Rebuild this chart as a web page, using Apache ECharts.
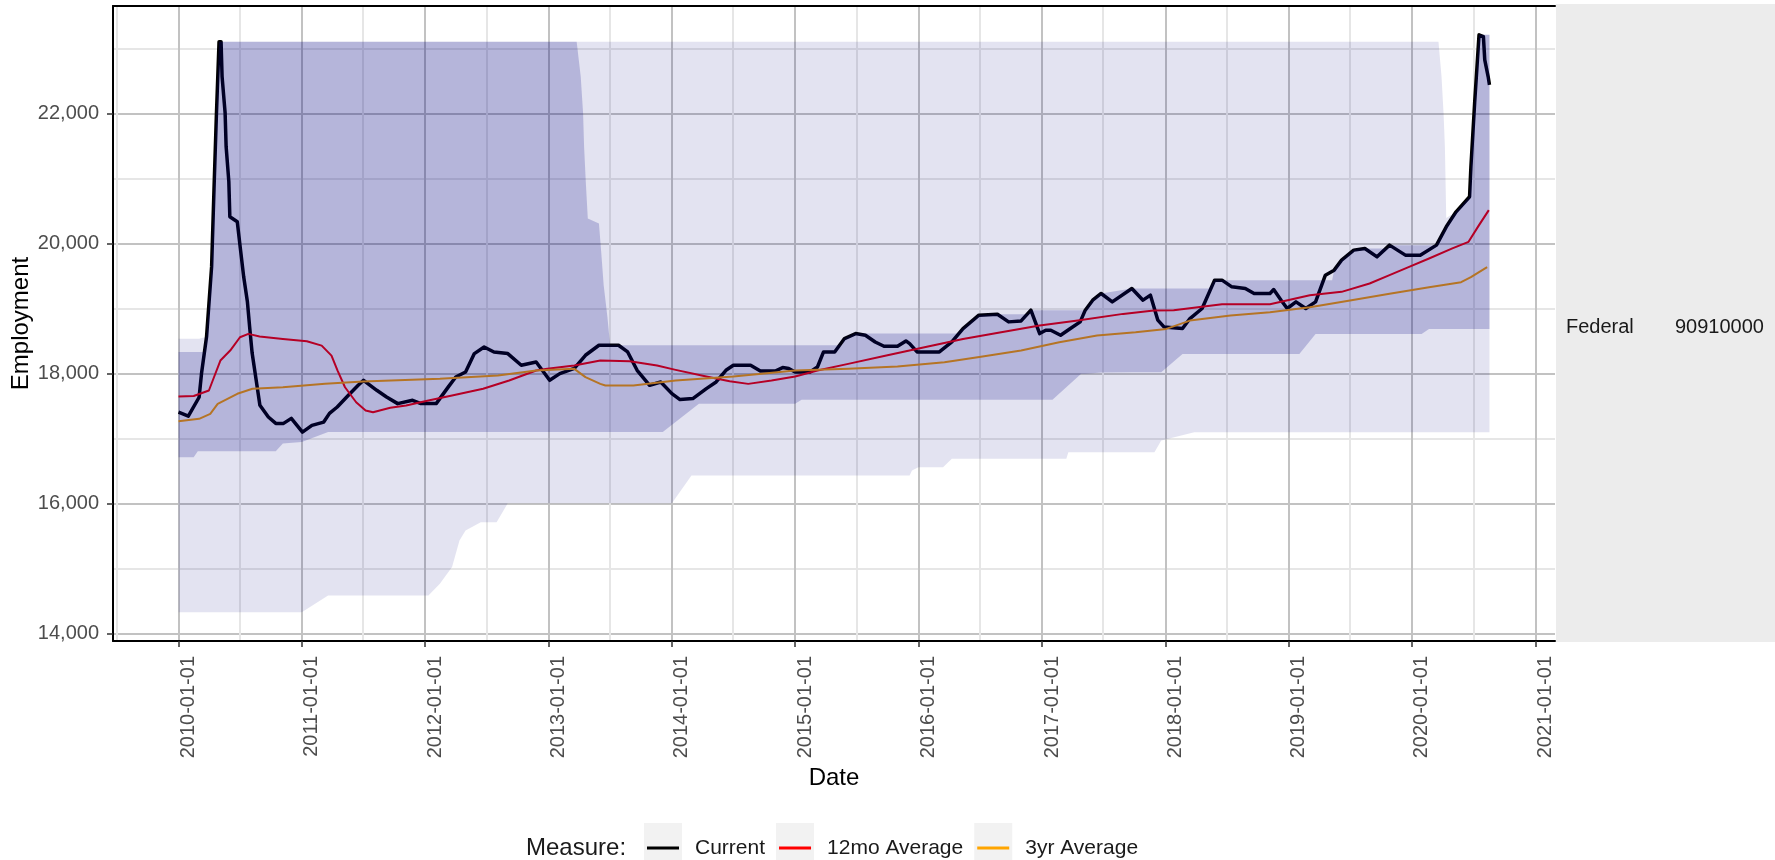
<!DOCTYPE html>
<html>
<head>
<meta charset="utf-8">
<title>Federal employment</title>
<script src="https://cdn.jsdelivr.net/npm/echarts@6/dist/echarts.min.js"></script>
<style>
  html, body { margin: 0; padding: 0; background: #fff; }
  #main { width: 1775px; height: 860px; }
</style>
</head>
<body>
<div id="main"></div>
<script>
const FONT = '"Liberation Sans", Arial, sans-serif';

// axis ticks
const yearTicks = ['2010-01-01', '2011-01-01', '2012-01-01', '2013-01-01', '2014-01-01', '2015-01-01',
  '2016-01-01', '2017-01-01', '2018-01-01', '2019-01-01', '2020-01-01', '2021-01-01'];
const halfYearTicks = ['2009-07-01', '2010-07-01', '2011-07-01', '2012-07-01', '2013-07-01', '2014-07-01',
  '2015-07-01', '2016-07-01', '2017-07-01', '2018-07-01', '2019-07-01', '2020-07-01'];
const yMajorTicks = [14000, 16000, 18000, 20000, 22000];
const yMinorTicks = [15000, 17000, 19000, 21000, 23000];

const legendNames = ['Current', '12mo Average', '3yr Average'];

// Current employment (thousands)
const currentPoints = [
  ['2010-01-01', 17410], ['2010-01-30', 17350], ['2010-03-03', 17640], ['2010-03-10', 18000],
  ['2010-03-25', 18570], ['2010-04-09', 19650], ['2010-04-16', 20830], ['2010-04-23', 21960],
  ['2010-05-01', 23110], ['2010-05-07', 23110], ['2010-05-10', 22575], ['2010-05-19', 22015],
  ['2010-05-22', 21496], ['2010-05-30', 20957], ['2010-06-02', 20417], ['2010-06-24', 20340],
  ['2010-07-03', 19935], ['2010-07-13', 19493], ['2010-07-24', 19108], ['2010-07-31', 18700],
  ['2010-08-07', 18320], ['2010-08-19', 17900], ['2010-08-30', 17516], ['2010-09-24', 17336],
  ['2010-10-16', 17238], ['2010-11-08', 17238], ['2010-12-01', 17315], ['2011-01-03', 17104],
  ['2011-01-31', 17207], ['2011-03-07', 17258], ['2011-03-24', 17392], ['2011-04-16', 17490],
  ['2011-05-19', 17670], ['2011-06-17', 17824], ['2011-07-03', 17901], ['2011-08-11', 17747],
  ['2011-09-09', 17644], ['2011-10-12', 17542], ['2011-11-25', 17593], ['2011-12-20', 17542],
  ['2012-02-03', 17542], ['2012-03-10', 17800], ['2012-04-01', 17952], ['2012-04-30', 18029],
  ['2012-05-26', 18312], ['2012-06-24', 18414], ['2012-07-23', 18337], ['2012-09-02', 18312],
  ['2012-10-12', 18132], ['2012-11-25', 18183], ['2012-12-17', 18029], ['2013-01-04', 17901],
  ['2013-02-03', 18004], ['2013-03-18', 18086], ['2013-04-20', 18286], ['2013-05-30', 18440],
  ['2013-07-27', 18440], ['2013-08-23', 18337], ['2013-09-20', 18055], ['2013-10-27', 17824],
  ['2013-11-29', 17875], ['2014-01-01', 17696], ['2014-01-25', 17604], ['2014-03-04', 17619],
  ['2014-04-13', 17773], ['2014-05-12', 17875], ['2014-06-10', 18055], ['2014-07-02', 18132],
  ['2014-08-22', 18132], ['2014-09-20', 18044], ['2014-11-03', 18044], ['2014-11-25', 18097],
  ['2014-12-13', 18081], ['2015-01-01', 18029], ['2015-02-14', 18029], ['2015-03-08', 18106],
  ['2015-03-26', 18337], ['2015-04-28', 18337], ['2015-05-27', 18543], ['2015-06-29', 18620],
  ['2015-07-28', 18594], ['2015-08-26', 18491], ['2015-09-21', 18425], ['2015-10-31', 18425],
  ['2015-11-25', 18507], ['2015-12-06', 18466], ['2015-12-28', 18337], ['2016-03-03', 18337],
  ['2016-04-09', 18491], ['2016-05-12', 18697], ['2016-06-28', 18903], ['2016-08-22', 18918],
  ['2016-09-24', 18800], ['2016-10-31', 18815], ['2016-11-29', 18980], ['2016-12-25', 18620],
  ['2017-01-12', 18671], ['2017-01-27', 18671], ['2017-02-25', 18594], ['2017-03-26', 18697],
  ['2017-04-24', 18800], ['2017-05-09', 18980], ['2017-05-31', 19134], ['2017-06-25', 19237],
  ['2017-07-28', 19108], ['2017-09-24', 19314], ['2017-10-27', 19134], ['2017-11-18', 19211],
  ['2017-12-10', 18826], ['2017-12-28', 18722], ['2018-02-21', 18697], ['2018-03-15', 18851],
  ['2018-04-20', 19006], ['2018-05-27', 19442], ['2018-06-18', 19442], ['2018-07-17', 19339],
  ['2018-08-26', 19314], ['2018-09-21', 19237], ['2018-11-07', 19237], ['2018-11-18', 19298],
  ['2018-12-10', 19134], ['2018-12-28', 19006], ['2019-01-23', 19108], ['2019-02-21', 19006],
  ['2019-03-22', 19108], ['2019-04-20', 19519], ['2019-05-16', 19596], ['2019-06-07', 19750],
  ['2019-07-13', 19904], ['2019-08-15', 19930], ['2019-09-20', 19801], ['2019-10-27', 19981],
  ['2019-12-13', 19827], ['2020-01-26', 19827], ['2020-03-14', 19981], ['2020-04-12', 20263],
  ['2020-05-11', 20494], ['2020-06-20', 20726], ['2020-06-24', 21188], ['2020-07-05', 22165],
  ['2020-07-12', 22729], ['2020-07-18', 23217], ['2020-07-31', 23191], ['2020-08-04', 22832],
  ['2020-08-14', 22575], ['2020-08-18', 22447]
];

// 12 month moving average
const avg12Points = [
  ['2010-01-01', 17650], ['2010-02-15', 17660], ['2010-04-01', 17744], ['2010-04-16', 17948],
  ['2010-05-05', 18205], ['2010-06-03', 18359], ['2010-07-02', 18563], ['2010-07-27', 18615],
  ['2010-08-29', 18574], ['2010-11-06', 18538], ['2011-01-16', 18502], ['2011-03-01', 18435],
  ['2011-03-30', 18281], ['2011-04-17', 18051], ['2011-05-09', 17794], ['2011-06-11', 17563],
  ['2011-07-09', 17436], ['2011-07-31', 17410], ['2011-09-20', 17478], ['2011-11-06', 17513],
  ['2012-01-11', 17590], ['2012-03-21', 17667], ['2012-06-21', 17770], ['2012-09-06', 17898],
  ['2012-11-25', 18051], ['2012-12-28', 18077], ['2013-03-18', 18128], ['2013-06-03', 18205],
  ['2013-08-29', 18194], ['2013-11-18', 18128], ['2014-01-12', 18061], ['2014-04-13', 17958],
  ['2014-06-21', 17886], ['2014-08-15', 17846], ['2014-10-23', 17897], ['2015-01-01', 17958],
  ['2015-03-08', 18051], ['2015-06-07', 18154], ['2015-09-28', 18282], ['2016-01-19', 18410],
  ['2016-05-12', 18538], ['2016-09-02', 18640], ['2016-12-25', 18743], ['2017-04-17', 18820],
  ['2017-08-29', 18923], ['2017-11-28', 18974], ['2018-01-26', 18980], ['2018-06-18', 19072],
  ['2018-11-07', 19072], ['2019-03-05', 19211], ['2019-06-07', 19262], ['2019-08-29', 19391],
  ['2019-10-27', 19519], ['2019-12-24', 19647], ['2020-02-21', 19776], ['2020-04-30', 19930],
  ['2020-06-17', 20032], ['2020-07-18', 20289], ['2020-08-16', 20520]
];

// 3 year moving average
const avg3yPoints = [
  ['2010-01-01', 17271], ['2010-03-03', 17308], ['2010-04-05', 17385], ['2010-04-27', 17539],
  ['2010-06-24', 17693], ['2010-08-08', 17770], ['2010-11-06', 17795], ['2011-03-11', 17846],
  ['2011-07-02', 17882], ['2012-02-14', 17923], ['2012-08-04', 17974], ['2012-11-25', 18051],
  ['2013-03-18', 18077], ['2013-04-20', 17949], ['2013-06-03', 17846], ['2013-06-18', 17820],
  ['2013-09-09', 17820], ['2014-01-12', 17897], ['2014-07-02', 17958], ['2015-01-01', 18051],
  ['2015-06-07', 18077], ['2015-10-31', 18112], ['2016-03-18', 18179], ['2016-07-09', 18266],
  ['2016-10-31', 18359], ['2017-02-21', 18487], ['2017-06-13', 18589], ['2017-10-05', 18640],
  ['2018-01-04', 18692], ['2018-03-15', 18820], ['2018-07-13', 18897], ['2018-11-07', 18949],
  ['2019-03-05', 19026], ['2019-07-02', 19129], ['2019-10-27', 19232], ['2020-02-21', 19334],
  ['2020-05-26', 19411], ['2020-06-24', 19488], ['2020-08-11', 19642]
];

// 3 year range: [date, low, high]
const range3yRows = [
  ['2010-01-01', 16718, 18337], ['2010-02-15', 16718, 18337], ['2010-02-27', 16810, 18337],
  ['2010-03-18', 16810, 18337], ['2010-03-25', 16810, 18570], ['2010-04-09', 16810, 19650],
  ['2010-04-16', 16810, 20830], ['2010-04-23', 16810, 21960], ['2010-05-01', 16810, 23110],
  ['2010-10-16', 16810, 23110], ['2010-11-06', 16930, 23110], ['2011-01-01', 16950, 23110],
  ['2011-03-20', 17104, 23110], ['2013-03-25', 17104, 23110], ['2013-04-06', 17104, 22575],
  ['2013-04-13', 17104, 22015], ['2013-04-16', 17104, 21496], ['2013-04-21', 17104, 20957],
  ['2013-04-27', 17104, 20391], ['2013-05-30', 17104, 20314], ['2013-06-06', 17104, 19853],
  ['2013-06-13', 17104, 19365], ['2013-06-24', 17104, 18877], ['2013-07-02', 17104, 18440],
  ['2013-12-05', 17104, 18440], ['2014-03-22', 17539, 18440], ['2015-01-01', 17539, 18440],
  ['2015-01-20', 17600, 18440], ['2015-05-20', 17600, 18440], ['2015-05-27', 17600, 18543],
  ['2015-06-29', 17600, 18620], ['2016-04-25', 17600, 18620], ['2016-05-12', 17600, 18697],
  ['2016-06-28', 17600, 18903], ['2016-08-22', 17600, 18918], ['2016-11-20', 17600, 18918],
  ['2016-11-29', 17600, 18980], ['2017-02-01', 17600, 18980], ['2017-04-27', 18000, 18980],
  ['2017-05-09', 18000, 18980], ['2017-05-31', 18010, 19134], ['2017-06-25', 18020, 19237],
  ['2017-09-24', 18025, 19314], ['2017-12-20', 18025, 19314], ['2018-02-21', 18307, 19314],
  ['2018-05-10', 18307, 19314], ['2018-05-27', 18307, 19442], ['2019-02-02', 18307, 19442],
  ['2019-03-22', 18615, 19442], ['2019-05-10', 18615, 19442], ['2019-05-16', 18615, 19596],
  ['2019-06-07', 18615, 19750], ['2019-07-13', 18615, 19904], ['2019-08-15', 18615, 19930],
  ['2019-10-20', 18615, 19930], ['2019-10-27', 18615, 19981], ['2020-01-30', 18615, 19981],
  ['2020-02-21', 18692, 19981], ['2020-03-14', 18692, 19981], ['2020-04-12', 18692, 20263],
  ['2020-05-11', 18692, 20494], ['2020-06-20', 18692, 20726], ['2020-06-24', 18692, 21188],
  ['2020-07-05', 18692, 22165], ['2020-07-12', 18692, 22729], ['2020-07-18', 18692, 23217],
  ['2020-08-18', 18692, 23217]
];

// 10 year range: [date, low, high]
const range10yRows = [
  ['2010-01-01', 14333, 18540], ['2010-03-03', 14333, 18540], ['2010-03-25', 14333, 18570],
  ['2010-04-09', 14333, 19650], ['2010-04-16', 14333, 20830], ['2010-04-23', 14333, 21960],
  ['2010-05-01', 14333, 23110], ['2011-01-01', 14333, 23110], ['2011-03-20', 14590, 23110],
  ['2012-01-11', 14590, 23110], ['2012-02-14', 14770, 23110], ['2012-03-21', 15027, 23110],
  ['2012-04-12', 15437, 23110], ['2012-04-30', 15590, 23110], ['2012-06-14', 15718, 23110],
  ['2012-07-31', 15718, 23110], ['2012-09-02', 16010, 23110], ['2014-01-01', 16010, 23110],
  ['2014-02-28', 16436, 23110], ['2015-12-06', 16436, 23110], ['2015-12-13', 16513, 23110],
  ['2016-01-01', 16564, 23110], ['2016-03-14', 16564, 23110], ['2016-04-09', 16692, 23110],
  ['2017-03-14', 16692, 23110], ['2017-03-20', 16795, 23110], ['2017-11-30', 16795, 23110],
  ['2017-12-20', 16974, 23110], ['2018-03-28', 17102, 23110], ['2020-03-20', 17102, 23110],
  ['2020-03-29', 17102, 22575], ['2020-04-04', 17102, 22015], ['2020-04-08', 17102, 21496],
  ['2020-04-12', 17102, 20400], ['2020-05-11', 17102, 20494], ['2020-06-20', 17102, 20726],
  ['2020-06-24', 17102, 21188], ['2020-07-05', 17102, 22165], ['2020-07-12', 17102, 22729],
  ['2020-07-18', 17102, 23217], ['2020-08-18', 17102, 23217]
];

const chart = echarts.init(document.getElementById('main'));

function lineSeries(name, points, color, width) {
  return {
    name: name,
    type: 'line',
    data: points,
    symbol: 'none',
    showSymbol: false,
    lineStyle: { color: color, width: width, join: 'round' },
    itemStyle: { color: color },
    z: 2,
    silent: true
  };
}

// a ribbon = invisible lower line + stacked band (high - low)
function ribbonSeries(id, rows, fill) {
  return [
    {
      name: id + ' low',
      type: 'line',
      stack: id,
      data: rows.map((r) => [r[0], r[1]]),
      symbol: 'none',
      lineStyle: { opacity: 0, width: 0 },
      z: 3,
      silent: true
    },
    {
      name: id + ' band',
      type: 'line',
      stack: id,
      data: rows.map((r) => [r[0], r[2] - r[1]]),
      symbol: 'none',
      lineStyle: { opacity: 0, width: 0 },
      areaStyle: { color: fill, opacity: 1 },
      z: 3,
      silent: true
    }
  ];
}

const xMin = '2009-06-21';
const xMax = '2021-02-28';
const yMin = 13889;
const yMax = 23661;

const majorGrid = { color: '#c2c2c2', width: 2 };
const minorGrid = { color: '#e6e6e6', width: 2 };

const option = {
  animation: false,
  backgroundColor: '#ffffff',
  textStyle: { fontFamily: FONT },
  grid: {
    left: 113,
    top: 6,
    width: 1442,
    height: 635,
    containLabel: false,
    outerBoundsMode: 'none'
  },
  legend: [
    {
      data: legendNames,
      selectedMode: false,
      orient: 'horizontal',
      left: 644,
      top: 823,
      padding: 0,
      itemGap: 11,
      itemWidth: 38,
      itemHeight: 51,
      icon: 'rect',
      itemStyle: { color: '#f2f2f2', borderWidth: 0 },
      textStyle: { fontFamily: FONT, fontSize: 21, color: '#1a1a1a', padding: [0, 0, 0, 8] }
    },
    {
      data: legendNames,
      selectedMode: false,
      orient: 'horizontal',
      left: 647,
      top: 837.5,
      padding: 0,
      itemGap: 11,
      itemWidth: 32,
      itemHeight: 3,
      icon: 'rect',
      textStyle: {
        fontFamily: FONT, fontSize: 21, color: 'rgba(0,0,0,0)',
        lineHeight: 3, padding: [0, 6, 0, 8]
      }
    }
  ],
  xAxis: [
    {
      type: 'time',
      position: 'bottom',
      min: xMin,
      max: xMax,
      name: 'Date',
      nameLocation: 'middle',
      nameGap: 121,
      nameTextStyle: { fontFamily: FONT, fontSize: 24, color: '#000' },
      axisLine: { show: true, onZero: false, lineStyle: { color: '#000', width: 2 } },
      axisTick: { show: true, customValues: yearTicks, length: 6, lineStyle: { color: '#333', width: 1.5 } },
      axisLabel: {
        customValues: yearTicks,
        formatter: '{yyyy}-{MM}-{dd}',
        rotate: 90,
        margin: 15,
        verticalAlign: 'top',
        fontFamily: FONT,
        fontSize: 20,
        color: '#4d4d4d'
      },
      splitLine: { show: true, lineStyle: majorGrid }
    },
    {
      type: 'time',
      position: 'top',
      min: xMin,
      max: xMax,
      axisLine: { show: true, onZero: false, lineStyle: { color: '#000', width: 2 } },
      axisTick: { show: false, customValues: halfYearTicks },
      axisLabel: { show: false },
      splitLine: { show: true, lineStyle: minorGrid }
    }
  ],
  yAxis: [
    {
      type: 'value',
      position: 'left',
      min: yMin,
      max: yMax,
      name: 'Employment',
      nameLocation: 'middle',
      nameGap: 80,
      nameMoveOverlap: false,
      nameTextStyle: { fontFamily: FONT, fontSize: 24, color: '#000' },
      axisLine: { show: true, onZero: false, lineStyle: { color: '#000', width: 2 } },
      axisTick: { show: true, customValues: yMajorTicks, length: 6, lineStyle: { color: '#333', width: 1.5 } },
      axisLabel: {
        customValues: yMajorTicks,
        formatter: (v) => v.toLocaleString('en-US'),
        margin: 14,
        fontFamily: FONT,
        fontSize: 20,
        color: '#4d4d4d'
      },
      splitLine: { show: true, lineStyle: majorGrid }
    },
    {
      type: 'value',
      position: 'right',
      min: yMin,
      max: yMax,
      axisLine: { show: false },
      axisTick: { show: false, customValues: yMinorTicks },
      axisLabel: { show: false },
      splitLine: { show: true, lineStyle: minorGrid }
    }
  ],
  graphic: [
    {
      type: 'rect',
      silent: true,
      shape: { x: 1556, y: 4, width: 219, height: 638 },
      style: { fill: '#ececec' }
    },
    {
      type: 'text',
      x: 1566,
      y: 327,
      style: { text: 'Federal', font: '20px ' + FONT, fill: '#1a1a1a', verticalAlign: 'middle' }
    },
    {
      type: 'text',
      x: 1675,
      y: 327,
      style: { text: '90910000', font: '20px ' + FONT, fill: '#1a1a1a', verticalAlign: 'middle' }
    },
    {
      type: 'text',
      x: 526,
      y: 848,
      style: { text: 'Measure:', font: '24px ' + FONT, fill: '#1a1a1a', verticalAlign: 'middle' }
    }
  ],
  series: [
    lineSeries('Current', currentPoints, '#000000', 3.5),
    lineSeries('12mo Average', avg12Points, '#ff0000', 2),
    lineSeries('3yr Average', avg3yPoints, '#ffa500', 2),
    ...ribbonSeries('10yr range', range10yRows, 'rgba(0,0,128,0.11)'),
    ...ribbonSeries('3yr range', range3yRows, 'rgba(0,0,128,0.2)')
  ]
};

chart.setOption(option);
</script>
</body>
</html>
